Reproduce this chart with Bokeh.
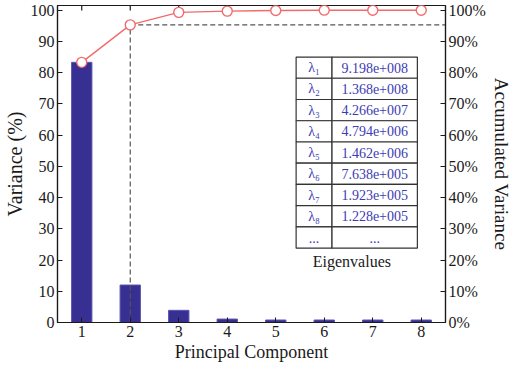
import math
from bokeh.plotting import figure
from bokeh.models import Range1d, FixedTicker, PrintfTickFormatter, LinearAxis
from bokeh.core.properties import value
from bokeh.embed import file_html
from bokeh.resources import INLINE

# ---- data ----
components = [1, 2, 3, 4, 5, 6, 7, 8]
variance = [83.3, 12.0, 3.9, 1.1, 0.8, 0.8, 0.8, 0.8]
accumulated = [83.3, 95.3, 99.3, 99.7, 99.9, 100.0, 100.0, 100.0]
y_ticks = [0, 10, 20, 30, 40, 50, 60, 70, 80, 90, 100]
eig_labels = ["λ₁", "λ₂", "λ₃", "λ₄", "λ₅", "λ₆", "λ₇", "λ₈", "..."]
eig_values = ["9.198e+008", "1.368e+008", "4.266e+007", "4.794e+006",
              "1.462e+006", "7.638e+005", "1.923e+005", "1.228e+005", "..."]

FONT = "Liberation Serif"
BAR = "#382f93"
RED = "#f26b6b"
BLUE_TXT = "#3c3cb4"
INK = "#1a1a1a"

X0, X1 = 0.5, 8.5
Y0, Y1 = 0, 101.5

p = figure(width=514, height=364, output_backend="svg", toolbar_location=None,
           x_range=Range1d(X0, X1), y_range=Range1d(Y0, Y1),
           min_border_left=10, min_border_right=10, min_border_top=5, min_border_bottom=10)
p.xgrid.visible = False
p.ygrid.visible = False
p.outline_line_color = INK
p.outline_line_width = 1.2
p.background_fill_color = "white"


def style_axis(ax):
    ax.axis_line_color = INK
    ax.axis_line_width = 1.2
    ax.major_tick_line_color = INK
    ax.major_tick_in = 5
    ax.major_tick_out = 0
    ax.minor_tick_line_color = None
    ax.major_label_text_font = FONT
    ax.major_label_text_font_size = "16px"
    ax.major_label_text_color = INK
    ax.major_label_standoff = 3
    ax.axis_label_text_font = FONT
    ax.axis_label_text_font_style = "normal"
    ax.axis_label_text_color = INK
    ax.axis_label_standoff = 2


xa = p.xaxis[0]
xa.ticker = FixedTicker(ticks=components)
xa.axis_label = "Principal Component"
style_axis(xa)
xa.axis_label_text_font_size = "18px"

ya = p.yaxis[0]
ya.ticker = FixedTicker(ticks=y_ticks)
ya.axis_label = "Variance (%)"
style_axis(ya)
ya.axis_label_text_font_size = "20px"

right = LinearAxis(ticker=FixedTicker(ticks=y_ticks),
                   formatter=PrintfTickFormatter(format="%d%%"),
                   axis_label="Accumulated Variance")
style_axis(right)
right.axis_label_text_font_size = "19px"
p.add_layout(right, "right")

# mirrored inward ticks along the top edge (half of each dash is clipped by the frame)
p.scatter(x=components, y=[Y1] * len(components), marker="dash", angle=math.pi / 2,
          size=10, line_color=INK, line_width=1.2)

# bars
p.vbar(x=components, top=variance, width=0.42, fill_color=BAR,
       line_color="#5b56b3", line_width=1)

# dashed guide lines at component 2
p.segment(x0=[components[1], components[1]], y0=[Y0, accumulated[1]],
          x1=[components[1], X1], y1=[accumulated[1], accumulated[1]],
          line_color="#555555", line_dash="5 3", line_width=1.2)

# accumulated curve
p.line(components, accumulated, line_color=RED, line_width=1.4)
p.scatter(components, accumulated, size=10, fill_color="white",
          line_color=RED, line_width=1.4)

# eigenvalue table
TX0, TXM, TX1 = 5.42, 6.16, 7.92
TTOP, RH = 85.0, 6.8
n = len(eig_labels)
tops = [TTOP - i * RH for i in range(n)]
bots = [t - RH for t in tops]
mids = [t - RH / 2 for t in tops]
p.quad(left=[TX0] * n, right=[TXM] * n, top=tops, bottom=bots,
       fill_color="white", line_color="#333333", line_width=1.2)
p.quad(left=[TXM] * n, right=[TX1] * n, top=tops, bottom=bots,
       fill_color="white", line_color="#333333", line_width=1.2)
p.text(x=[(TX0 + TXM) / 2] * n, y=mids, text=eig_labels, text_align="center",
       text_baseline="middle", text_font=value(FONT), text_font_size="14px",
       text_color=BLUE_TXT)
p.text(x=[(TXM + TX1) / 2] * n, y=mids, text=eig_values, text_align="center",
       text_baseline="middle", text_font=value(FONT), text_font_size="14px",
       text_color=BLUE_TXT)
p.text(x=[(TX0 + TX1) / 2 - 0.1], y=[bots[-1] - 4.2], text=["Eigenvalues"],
       text_align="center", text_baseline="middle", text_font=value(FONT),
       text_font_size="16px", text_color=INK)

open("out.html", "w").write(file_html(p, INLINE))
